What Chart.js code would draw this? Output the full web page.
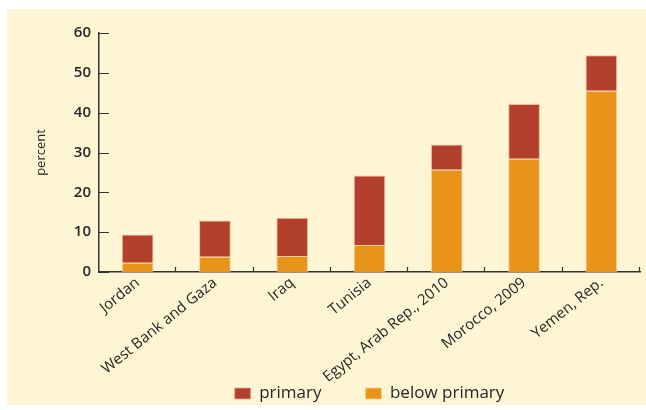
<!DOCTYPE html>
<html>
<head>
<meta charset="utf-8">
<script src="https://cdn.jsdelivr.net/npm/chart.js@4"></script>
<style>
  html, body { margin: 0; padding: 0; background: #fff; overflow: hidden; }
  #bg { position: absolute; left: 7px; top: 9px; width: 639px; height: 396px; background: #fef5d4; }
  #wrap { position: absolute; left: 7px; top: 9px; width: 639px; height: 447px; }
</style>
</head>
<body>
<div id="bg"></div>
<div id="wrap"><canvas id="chart"></canvas></div>
<script>
const countries = ["Jordan", "West Bank and Gaza", "Iraq", "Tunisia", "Egypt, Arab Rep., 2010", "Morocco, 2009", "Yemen, Rep."];
const belowPrimary = [2.3, 3.8, 4.0, 6.8, 25.7, 28.4, 45.5];
const primary = [7.1, 9.1, 9.6, 17.4, 6.3, 13.8, 8.9];
const yTicks = [0, 10, 20, 30, 40, 50, 60];

const textColor = "#262626";
const axisColor = "#333";

// short ticks drawn inward, like the original figure
const innerTicks = {
  id: "innerTicks",
  afterLayout(chart) {
    // legend sits closer to the rotated labels than the layout allows
    const lg = chart.legend;
    const h = lg.bottom - lg.top;
    lg.top = 332;
    lg.bottom = lg.top + h;
  },
  afterDraw(chart) {
    const { ctx, scales: { x, y } } = chart;
    ctx.save();
    ctx.strokeStyle = axisColor;
    ctx.lineWidth = 1.2;
    ctx.beginPath();
    yTicks.forEach((v) => {
      const py = Math.round(y.getPixelForValue(v)) + 0.5;
      ctx.moveTo(x.left, py);
      ctx.lineTo(x.left + 10, py);
    });
    for (let i = 0; i < countries.length; i++) {
      const px = i < countries.length - 1
        ? (x.getPixelForValue(i) + x.getPixelForValue(i + 1)) / 2
        : x.right;
      ctx.moveTo(Math.round(px) - 0.5, y.bottom);
      ctx.lineTo(Math.round(px) - 0.5, y.bottom - 5);
    }
    ctx.stroke();
    ctx.restore();
  },
};

new Chart(document.getElementById("chart"), {
  type: "bar",
  data: {
    labels: countries,
    datasets: [
      {
        label: "below primary",
        data: belowPrimary,
        backgroundColor: "#e8931a",
        borderColor: "rgba(250,205,140,0.9)",
        borderWidth: 1,
      },
      {
        label: "primary",
        data: primary,
        backgroundColor: "#b3402c",
        borderColor: "rgba(240,170,140,0.8)",
        borderWidth: 1,
      },
    ],
  },
  options: {
    responsive: true,
    maintainAspectRatio: false,
    animation: false,
    layout: { padding: { top: 24, right: 6, left: 0, bottom: 0 } },
    datasets: { bar: { categoryPercentage: 1, barPercentage: 0.41 } },
    scales: {
      x: {
        stacked: true,
        grid: { display: false, drawTicks: false },
        border: { display: true, color: axisColor, width: 1.5 },
        ticks: {
          color: textColor,
          font: { family: "Open Sans", size: 15 },
          minRotation: 39,
          maxRotation: 39,
          padding: 2,
        },
        afterFit(scale) { scale.height = 113; },
      },
      y: {
        stacked: true,
        min: 0,
        max: 60,
        grid: { display: false, drawTicks: false },
        border: { display: true, color: axisColor, width: 1.5 },
        ticks: {
          stepSize: 10,
          color: textColor,
          font: { family: "Open Sans", size: 15, weight: "600" },
          padding: 8,
        },
        title: {
          display: true,
          text: "percent",
          color: textColor,
          font: { family: "Open Sans", size: 13 },
          padding: { top: 26, bottom: 0 },
        },
        afterFit(scale) { scale.width = 92; },
      },
    },
    plugins: {
      tooltip: { enabled: false },
      legend: {
        position: "bottom",
        fullSize: false,
        reverse: true,
        labels: {
          color: textColor,
          font: { family: "Open Sans", size: 17, weight: "500" },
          boxWidth: 16,
          boxHeight: 11,
          padding: 44,
        },
      },
    },
  },
  plugins: [innerTicks],
});
</script>
</body>
</html>
